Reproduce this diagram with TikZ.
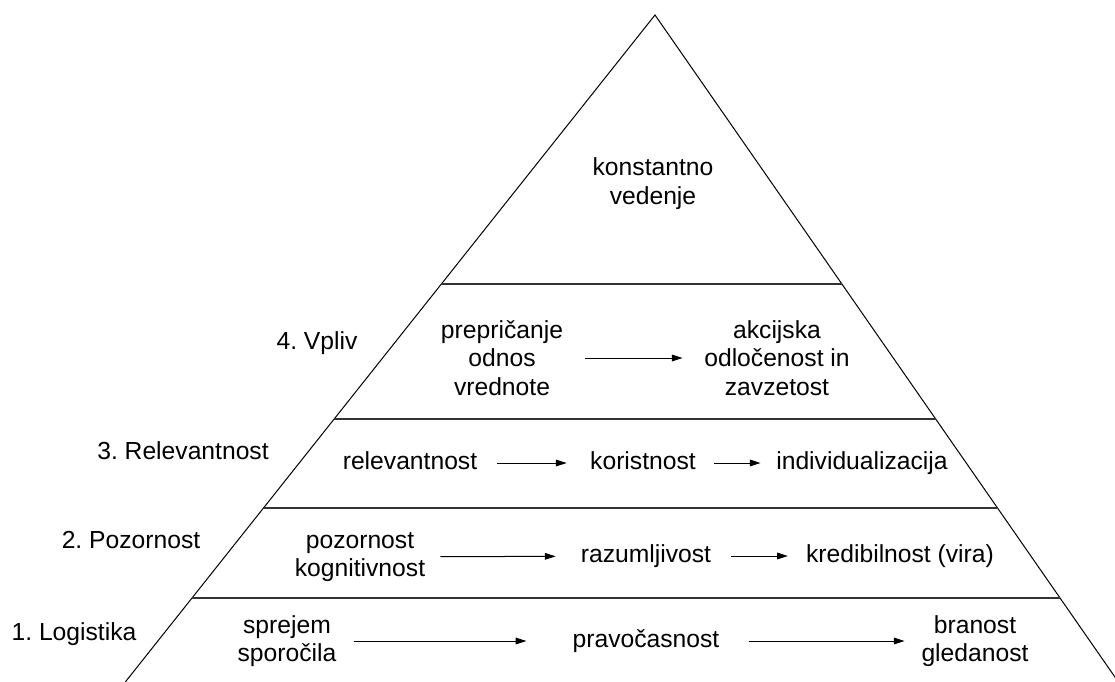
\documentclass[tikz,border=0pt]{standalone}
\usepackage{fontspec}
\setmainfont{Liberation Sans}
\usetikzlibrary{arrows.meta,calc}
\begin{document}
\begin{tikzpicture}[x=0.75pt,y=-0.75pt,
  lbl/.style={inner sep=0pt,align=center,font=\fontsize{18.5}{21.4}\selectfont\frenchspacing},
  one/.style={lbl,text height=14pt,text depth=4pt},
  edge/.style={line width=0.75pt,black},
  tier/.style={line width=1pt,black!80},
  arr/.style={line width=0.75pt,-{Triangle[length=8pt,width=5pt]}},
]
\useasboundingbox (0,0) rectangle (1115,682);
% triangle
\coordinate (apex) at (655,15);
\coordinate (bl) at (125.3,682);
\coordinate (br) at (1118.4,682);
\draw[edge] (bl) -- (apex) -- (br);
% tier lines
\coordinate (l1) at (441.4,284); \coordinate (r1) at (841.9,284);
\coordinate (l2) at (334.1,419); \coordinate (r2) at (935.6,419);
\coordinate (l3) at (263.5,508); \coordinate (r3) at (997.5,508);
\coordinate (l4) at (192.0,598); \coordinate (r4) at (1060.0,598);
\draw[tier] (l1) -- (r1);
\draw[tier] (l2) -- (r2);
\draw[tier] (l3) -- (r3);
\draw[tier] (l4) -- (r4);
% top
\node[lbl] (kv) at (653,183.5) {konstantno\\vedenje};
% 4. Vpliv
\node[one] (vpliv) at (317,343) {4. Vpliv};
\node[lbl] (prep) at (502,358) {prepričanje\\odnos\\vrednote};
\node[lbl] (akc) at (777,358) {akcijska\\odločenost in\\zavzetost};
\draw[arr,shorten <=16.5pt,shorten >=16.1pt] (prep) -- (akc);
% 3. Relevantnost
\node[one] (relL) at (183,453) {3. Relevantnost};
\node[one] (rel) at (410,463) {relevantnost};
\node[one] (kor) at (643,463) {koristnost};
\node[one] (ind) at (862,463) {individualizacija};
\draw[arr,shorten <=15pt,shorten >=17.5pt] (rel) -- (kor);
\draw[arr,shorten <=13.8pt,shorten >=11.6pt] (kor) -- (ind);
% 2. Pozornost
\node[one] (pozL) at (131,542) {2. Pozornost};
\node[lbl] (poz) at (360,557) {pozornost\\kognitivnost};
\node[one] (raz) at (646,556) {razumljivost};
\node[one] (kred) at (900,556) {kredibilnost (vira)};
\draw[arr,shorten <=11.25pt,shorten >=18.75pt] (poz) -- (raz);
\draw[arr,shorten <=15pt,shorten >=13.5pt] (raz) -- (kred);
% 1. Logistika
\node[one] (logL) at (74,634) {1. Logistika};
\node[lbl] (spr) at (287,641) {sprejem\\sporočila};
\node[one] (prav) at (646,641) {pravočasnost};
\node[lbl] (bran) at (975,641) {branost\\gledanost};
\draw[arr,shorten <=12.75pt,shorten >=34.5pt] (spr) -- (prav);
\draw[arr,shorten <=21.75pt,shorten >=12.5pt] (prav) -- (bran);
\end{tikzpicture}
\end{document}
